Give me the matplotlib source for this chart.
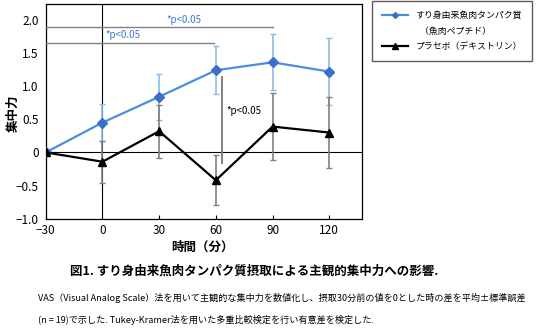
import matplotlib
matplotlib.use("Agg")
import matplotlib.pyplot as plt
from matplotlib.lines import Line2D

plt.rcParams['font.family'] = ['Noto Sans CJK JP', 'DejaVu Sans']

times = [-30, 0, 30, 60, 90, 120]
fish = [0.0, 0.45, 0.84, 1.24, 1.36, 1.22]
fish_err = [0.0, 0.28, 0.35, 0.36, 0.42, 0.51]
placebo = [0.0, -0.14, 0.32, -0.42, 0.39, 0.30]
placebo_err = [0.0, 0.32, 0.40, 0.38, 0.50, 0.54]
fish_label = "すり身由来魚肉タンパク質"
fish_label2 = "  （魚肉ペプチド）"
placebo_label = "プラセボ（デキストリン）"
sig_text = "*p<0.05"
xticks = [-30, 0, 30, 60, 90, 120]
yticks = [-1.0, -0.5, 0, 0.5, 1.0, 1.5, 2.0]
ytick_labels = ["−1.0", "−0.5", "0", "0.5", "1.0", "1.5", "2.0"]
xtick_labels = ["−30", "0", "30", "60", "90", "120"]

W, H = 536, 329
fig = plt.figure(figsize=(W/100, H/100), dpi=100)
ax = fig.add_axes([45.7/W, 1-218.7/H, (362-45.7)/W, (218.7-4)/H])

blue_line = '#4a8fdb'
blue_marker = '#3b6fc8'
blue_err = '#8dbbea'
gray_err = '#808080'

ax.axhline(0, color='black', lw=0.8, zorder=1)
ax.axvline(0, color='black', lw=0.8, zorder=1)

ax.errorbar(times, fish, yerr=fish_err, fmt='none', ecolor=blue_err, elinewidth=1.2,
            capsize=2.5, capthick=1.0, zorder=2)
ax.errorbar(times, placebo, yerr=placebo_err, fmt='none', ecolor=gray_err, elinewidth=1.2,
            capsize=2.5, capthick=1.0, zorder=2)
ax.plot(times, fish, color=blue_line, lw=1.6, marker='D', markersize=5,
        markerfacecolor=blue_marker, markeredgecolor=blue_marker, zorder=4)
ax.plot(times, placebo, color='black', lw=1.6, marker='^', markersize=6,
        markerfacecolor='black', markeredgecolor='black', zorder=4)

# significance annotations
ax.plot([-30, 90], [1.9, 1.9], color='#808080', lw=1.0, zorder=3)
ax.plot([-30, 59], [1.65, 1.65], color='#808080', lw=1.0, zorder=3)
ax.plot([63, 63], [1.14, -0.16], color='#808080', lw=1.4, zorder=3)
ax.text(43, 2.0, sig_text, color='#3b78d0', fontsize=7, ha='center', va='center')
ax.text(11, 1.77, sig_text, color='#3b78d0', fontsize=7, ha='center', va='center')
ax.text(65.5, 0.62, sig_text, color='black', fontsize=7, ha='left', va='center')

ax.set_xlim(-30, 137.3)
ax.set_ylim(-1.0, 2.24)
ax.set_xticks(xticks)
ax.set_xticklabels(xtick_labels)
ax.set_yticks(yticks)
ax.set_yticklabels(ytick_labels)
ax.tick_params(axis='x', direction='in', length=3, labelsize=8.5, pad=4)
ax.tick_params(axis='y', length=0, labelsize=8.5, pad=5)
for s in ax.spines.values():
    s.set_linewidth(0.9)

fig.text(13/W, 1-113/H, "集中力", rotation=90, ha='center', va='center', fontsize=9, fontweight='bold')
fig.text(202/W, 1-247/H, "時間（分）", ha='center', va='center', fontsize=9, fontweight='bold')

# legend
handles = [Line2D([0], [0], color=blue_line, lw=1.6, marker='D', markersize=3,
                  markerfacecolor=blue_marker, markeredgecolor=blue_marker),
           Line2D([0], [0], color='none'),
           Line2D([0], [0], color='black', lw=1.6, marker='^', markersize=4,
                  markerfacecolor='black')]
leg = fig.legend(handles, [fish_label, fish_label2, placebo_label],
                 loc='upper left', bbox_to_anchor=(372/W, 1-1/H), fontsize=6.4,
                 frameon=True, fancybox=False, edgecolor='#333333', handlelength=3.0,
                 handletextpad=0.8, labelspacing=0.75, borderpad=1.1, borderaxespad=0)
leg.get_frame().set_linewidth(1.0)

fig.text(254/W, 1-271/H, "図1. すり身由来魚肉タンパク質摂取による主観的集中力への影響.",
         ha='center', va='center', fontsize=9, fontweight='bold')
fig.text(38/W, 1-298/H,
         "VAS（Visual Analog Scale）法を用いて主観的な集中力を数値化し、摂取30分前の値を0とした時の差を平均±標準誤差",
         ha='left', va='center', fontsize=6.55)
fig.text(38/W, 1-320/H,
         "(n = 19)で示した. Tukey-Kramer法を用いた多重比較検定を行い有意差を検定した.",
         ha='left', va='center', fontsize=6.55)

fig.savefig("out.png", dpi=100)
